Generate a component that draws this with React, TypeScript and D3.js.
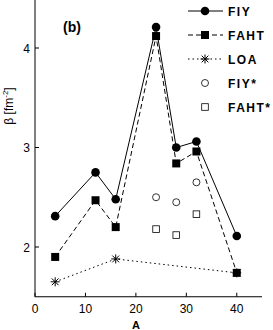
import React from 'react'
import * as d3 from 'd3'

// mass number A
const massA = [4, 12, 16, 24, 28, 32, 40]
const fiy = [2.31, 2.75, 2.48, 4.21, 3.0, 3.06, 2.11]
const faht = [1.9, 2.47, 2.2, 4.12, 2.84, 2.96, 1.74]
const loaA = [4, 16, 40]
const loa = [1.65, 1.88, 1.74]
const starA = [24, 28, 32]
const fiyStar = [2.5, 2.45, 2.65]
const fahtStar = [2.18, 2.12, 2.33]
const xTicks = [0, 10, 20, 30, 40]
const yTicks = [2, 3, 4]
const legendLabels = ['FIY', 'FAHT', 'LOA', 'FIY*', 'FAHT*']

const W = 273, H = 330
const font = 'Liberation Sans, Arial, sans-serif'

function Marker({ kind, x, y }: { kind: string; x: number; y: number }) {
  if (kind === 'circle') return <circle cx={x} cy={y} r={4.3} fill="#000" />
  if (kind === 'square') return <rect x={x - 4} y={y - 4} width={8} height={8} fill="#000" />
  if (kind === 'ocircle') return <circle cx={x} cy={y} r={3.5} fill="#fff" stroke="#000" strokeWidth={0.8} />
  if (kind === 'osquare') return <rect x={x - 3.3} y={y - 3.3} width={6.6} height={6.6} fill="#fff" stroke="#000" strokeWidth={0.8} />
  // asterisk
  const r = 4.5
  return (
    <g stroke="#000" strokeWidth={1}>
      <line x1={x - r} y1={y} x2={x + r} y2={y} />
      <line x1={x} y1={y - r} x2={x} y2={y + r} />
      <line x1={x - r * 0.75} y1={y - r * 0.75} x2={x + r * 0.75} y2={y + r * 0.75} />
      <line x1={x - r * 0.75} y1={y + r * 0.75} x2={x + r * 0.75} y2={y - r * 0.75} />
    </g>
  )
}

export default function App() {
  const x = d3.scaleLinear().domain([0, 45]).range([35, 262])
  const y = d3.scaleLinear().domain([2, 4]).range([247, 48])
  const line = d3.line<[number, number]>().x(d => x(d[0])).y(d => y(d[1]))

  const series = [
    { xs: massA, ys: fiy, dash: undefined, kind: 'circle' },
    { xs: massA, ys: faht, dash: '5,3', kind: 'square' },
    { xs: loaA, ys: loa, dash: '1.5,3', kind: 'star' },
  ]
  const legendKinds = ['circle', 'square', 'star', 'ocircle', 'osquare']
  const legendDash = [undefined, '5,3', '1.5,3', null, null]

  const y0 = y(1.5)

  return (
    <svg width={W} height={H} style={{ position: 'absolute', left: 0, top: 0 }} fontFamily={font}>
      <rect width={W} height={H} fill="#fff" />
      {/* axes */}
      <line x1={x(0)} y1={0} x2={x(0)} y2={y0} stroke="#000" strokeWidth={1} />
      <line x1={x(0)} y1={y0} x2={x(45)} y2={y0} stroke="#000" strokeWidth={1} />
      {xTicks.map(t => (
        <g key={'x' + t}>
          <line x1={x(t)} x2={x(t)} y1={y0} y2={y0 - 4} stroke="#000" />
          <text x={x(t)} y={313} textAnchor="middle" fontSize={12}>{t}</text>
        </g>
      ))}
      {yTicks.map(t => (
        <g key={'y' + t}>
          <line x1={x(0)} x2={x(0) + 4} y1={y(t)} y2={y(t)} stroke="#000" />
          <text x={x(0) - 5} y={y(t) + 4.5} textAnchor="end" fontSize={12}>{t}</text>
        </g>
      ))}
      <text x={x(20)} y={328.5} textAnchor="middle" fontSize={11} fontWeight="bold">A</text>
      <text transform="translate(13,106) rotate(-90)" textAnchor="middle" fontSize={12}>
        β [fm<tspan dy={-5} fontSize={8}>-2</tspan><tspan dy={5}>]</tspan>
      </text>
      <text x={63} y={32} fontSize={14} fontWeight="bold">(b)</text>

      {/* series */}
      {series.map((s, i) => (
        <g key={i}>
          <path d={line(s.xs.map((v, j) => [v, s.ys[j]]) as [number, number][]) || ''} fill="none"
            stroke="#000" strokeWidth={1} strokeDasharray={s.dash} />
        </g>
      ))}
      {starA.map((v, j) => <Marker key={'fs' + j} kind="ocircle" x={x(v)} y={y(fiyStar[j])} />)}
      {starA.map((v, j) => <Marker key={'as' + j} kind="osquare" x={x(v)} y={y(fahtStar[j])} />)}
      {series.map((s, i) => s.xs.map((v, j) => (
        <Marker key={i + '-' + j} kind={s.kind} x={x(v)} y={y(s.ys[j])} />
      )))}

      {/* legend */}
      {legendLabels.map((lab, i) => {
        const ly = 11 + i * 24
        return (
          <g key={lab}>
            {legendDash[i] !== null && (
              <line x1={188} x2={223} y1={ly} y2={ly} stroke="#000" strokeWidth={1}
                strokeDasharray={legendDash[i] as string | undefined} />
            )}
            <Marker kind={legendKinds[i]} x={205} y={ly} />
            <text x={228} y={ly + 4.5} fontSize={12} fontWeight="bold" letterSpacing={1.5}>{lab}</text>
          </g>
        )
      })}
    </svg>
  )
}
